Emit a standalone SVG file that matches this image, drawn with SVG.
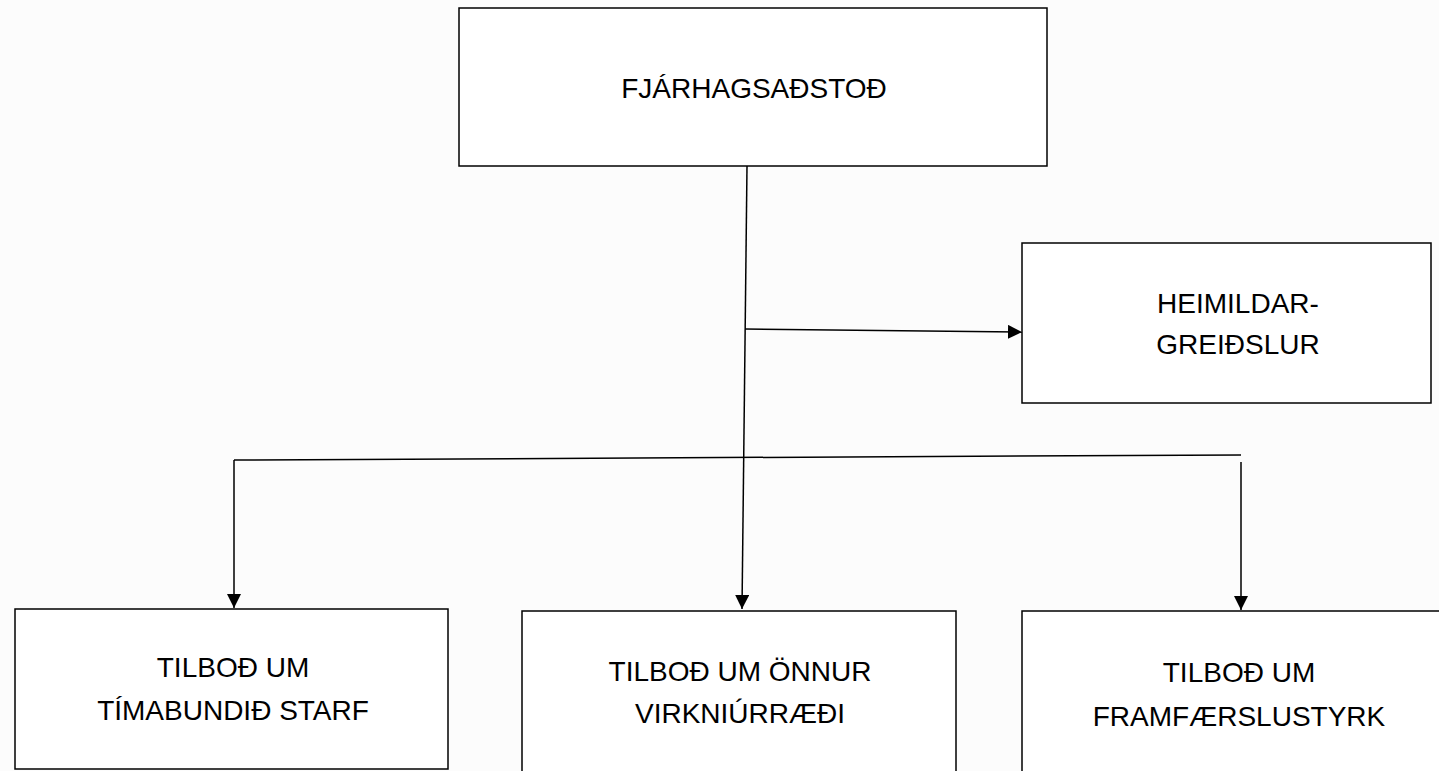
<svg xmlns="http://www.w3.org/2000/svg" width="1439" height="771" viewBox="0 0 1439 771">
<style>
.box{fill:#ffffff;stroke:#000;stroke-width:1.5}
.lbl{font-family:"Liberation Sans",Arial,sans-serif;font-size:28px;fill:#000;text-anchor:middle}
.conn{fill:none;stroke:#000;stroke-width:1.5}
</style>
<defs>
<marker id="arr" viewBox="0 0 10 10" refX="10" refY="5" markerWidth="14" markerHeight="14" markerUnits="userSpaceOnUse" orient="auto">
<path d="M0,0 L10,5 L0,10 Z" fill="#000"/>
</marker>
</defs>
<rect width="1439" height="771" fill="#fcfcfc"/>
<g id="n-top">
<rect class="box" x="459" y="8" width="588" height="158"/>
<text class="lbl" x="754" y="98">FJÁRHAGSAÐSTOÐ</text>
</g>
<g id="n-heimildar">
<rect class="box" x="1022" y="243" width="409" height="160"/>
<text class="lbl" x="1238" y="313">HEIMILDAR-</text>
<text class="lbl" x="1238" y="354">GREIÐSLUR</text>
</g>
<g id="n-starf">
<rect class="box" x="15" y="609" width="433" height="160"/>
<text class="lbl" x="233" y="677">TILBOÐ UM</text>
<text class="lbl" x="233" y="720">TÍMABUNDIÐ STARF</text>
</g>
<g id="n-virkni">
<rect class="box" x="522" y="611" width="434" height="170"/>
<text class="lbl" x="740" y="681">TILBOÐ UM ÖNNUR</text>
<text class="lbl" x="740" y="723">VIRKNIÚRRÆÐI</text>
</g>
<g id="n-framf">
<rect class="box" x="1022" y="611" width="430" height="170"/>
<text class="lbl" x="1239" y="682">TILBOÐ UM</text>
<text class="lbl" x="1239" y="726">FRAMFÆRSLUSTYRK</text>
</g>
<g id="connectors">
<path class="conn" d="M747,166 L742,609" marker-end="url(#arr)"/>
<path class="conn" d="M745,329 L1022,332" marker-end="url(#arr)"/>
<path class="conn" d="M234,460 L1241,455"/>
<path class="conn" d="M234,460 L234,608" marker-end="url(#arr)"/>
<path class="conn" d="M1241,462 L1241,610" marker-end="url(#arr)"/>
</g>
</svg>
